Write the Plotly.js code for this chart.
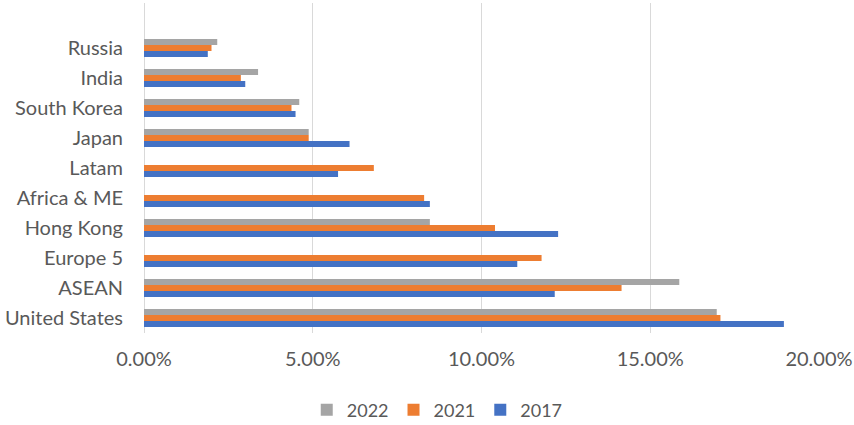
<!DOCTYPE html>
<html>
<head>
<meta charset="utf-8">
<script src="https://cdn.plot.ly/plotly-3.0.1.min.js"></script>
<style>
  html, body { margin: 0; padding: 0; background: #fff; }
  #chart { width: 854px; height: 425px; }
</style>
</head>
<body>
<div id="chart"></div>
<script>
// categories from bottom to top
const regions = ['United States', 'ASEAN', 'Europe 5', 'Hong Kong', 'Africa & ME',
                 'Latam', 'Japan', 'South Korea', 'India', 'Russia'];
const share2017 = [0.1896, 0.1217, 0.1106, 0.1227, 0.0847, 0.0575, 0.0609, 0.0449, 0.0300, 0.0189];
const share2021 = [0.1708, 0.1415, 0.1178, 0.1040, 0.0830, 0.0681, 0.0488, 0.0437, 0.0287, 0.0200];
const share2022 = [0.1697, 0.1586, null, 0.0847, null, null, 0.0488, 0.0460, 0.0338, 0.0217];
const xTicks = [0, 0.05, 0.10, 0.15, 0.20];

const textColor = '#595959';
const fontName = 'Lato, "Open Sans", sans-serif';

function barTrace(name, values, color) {
    return {
        type: 'bar',
        orientation: 'h',
        name: name,
        x: values,
        y: regions,
        marker: {color: color},
        hoverinfo: 'x+name'
    };
}

const traces = [
    barTrace('2017', share2017, '#4472C4'),
    barTrace('2021', share2021, '#ED7D31'),
    barTrace('2022', share2022, '#A5A5A5')
];

const layout = {
    width: 854,
    height: 425,
    margin: {l: 144, r: 35, t: 3, b: 92, autoexpand: false},
    paper_bgcolor: '#ffffff',
    plot_bgcolor: '#ffffff',
    font: {family: fontName, size: 20, color: textColor},
    barmode: 'group',
    bargap: 0.4,
    bargroupgap: 0,
    showlegend: true,
    legend: {
        orientation: 'h',
        traceorder: 'reversed',
        xref: 'container',
        yref: 'container',
        x: 0.512,
        xanchor: 'center',
        y: 0.035,
        yanchor: 'middle',
        itemwidth: 30,
        font: {size: 18, color: textColor}
    },
    xaxis: {
        range: [0, 0.2],
        tickvals: xTicks,
        tickformat: '.2%',
        showgrid: true,
        gridcolor: '#D9D9D9',
        gridwidth: 1,
        zeroline: true,
        zerolinecolor: '#D9D9D9',
        zerolinewidth: 1,
        showline: false,
        ticks: '',
        ticklabelstandoff: 12,
        fixedrange: true
    },
    yaxis: {
        type: 'category',
        range: [-0.5, 10.5],
        showgrid: false,
        zeroline: false,
        showline: false,
        ticks: '',
        ticklabelstandoff: 20,
        fixedrange: true
    }
};

Plotly.newPlot('chart', traces, layout, {displayModeBar: false, staticPlot: true});
</script>
</body>
</html>
